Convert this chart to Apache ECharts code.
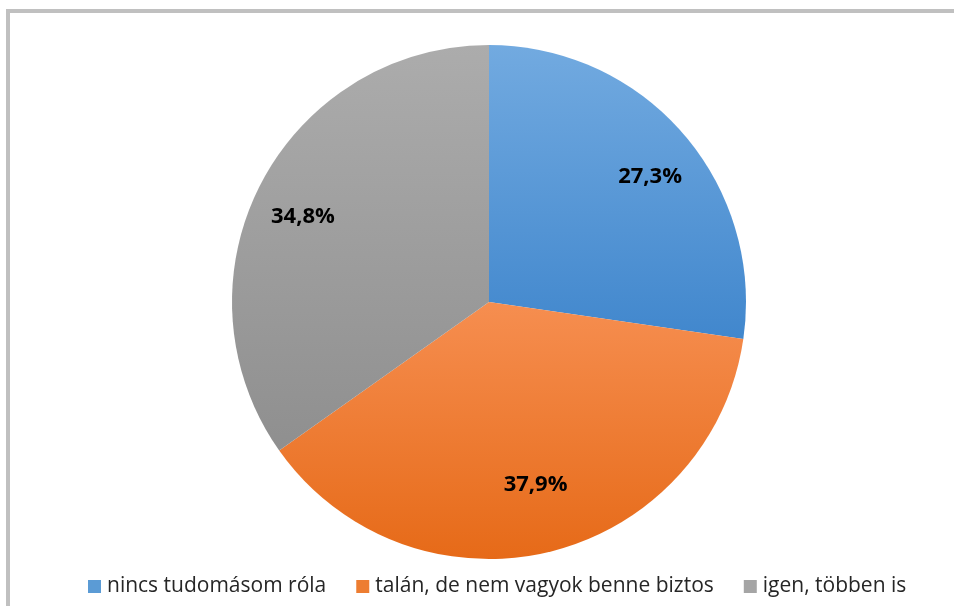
<!DOCTYPE html>
<html>
<head>
<meta charset="utf-8">
<script src="https://cdn.jsdelivr.net/npm/echarts@6/dist/echarts.min.js"></script>
<style>
html,body{margin:0;padding:0;background:#fff;}
#chart{width:954px;height:606px;}
</style>
</head>
<body>
<div id="chart"></div>
<script>
const categories = ['nincs tudomásom róla', 'talán, de nem vagyok benne biztos', 'igen, többen is'];
const values = [27.3, 37.9, 34.8];
const colorTop = ['#72aae0', '#f68e50', '#acacac'];
const colorBottom = ['#4187cd', '#e66a18', '#8f8f8f'];
const legendColors = ['#5b9bd5', '#ed7d31', '#a5a5a5'];

const chart = echarts.init(document.getElementById('chart'));
const fontFam = '"Open Sans", sans-serif';
// nudges of each value label (px): vertical (positive = down), horizontal (positive = right)
const labelShift = [9, -3, 9];
const labelShiftX = [6, 2, -4];

function grad(i) {
  return new echarts.graphic.LinearGradient(0, 0, 0, 1, [
    { offset: 0, color: colorTop[i] },
    { offset: 1, color: colorBottom[i] }
  ]);
}

const pieData = categories.map((c, i) => ({
  name: c,
  value: values[i],
  itemStyle: { color: grad(i) }
}));
function fmt(p) {
  const i = p.dataIndex;
  let t = '{v|' + p.value.toFixed(1).replace('.', ',') + '%}';
  const sx = labelShiftX[i];
  if (sx > 0) t = '{h' + i + '| }' + t;
  if (sx < 0) t = t + '{h' + i + '| }';
  const s = labelShift[i];
  if (s > 0) return '{a| }\n' + t;
  if (s < 0) return t + '\n{b| }';
  return t;
}
function labelData(showIdx) {
  return categories.map((c, i) => ({
    name: c, value: values[i],
    label: { show: showIdx.indexOf(i) >= 0 }
  }));
}
const rich = {
  v: { fontSize: 22, fontWeight: 'bold', fontFamily: fontFam, color: '#000', lineHeight: 24 },
  a: { fontSize: 2, lineHeight: 18 },
  b: { fontSize: 2, lineHeight: 6 }
};
labelShiftX.forEach((sx, i) => { rich['h' + i] = { fontSize: 2, width: Math.abs(sx) * 2 }; });
const labelCfg = {
  show: true,
  position: 'inside',
  color: '#000',
  fontSize: 22,
  fontWeight: 'bold',
  fontFamily: fontFam,
  formatter: fmt,
  rich: rich
};
function labelSeries(outer, showIdx) {
  return {
    type: 'pie',
    center: [489, 302],
    radius: [0, outer],
    startAngle: 90,
    clockwise: true,
    silent: true,
    itemStyle: { color: 'transparent', borderWidth: 0 },
    emphasis: { disabled: true },
    labelLine: { show: false },
    label: labelCfg,
    data: labelData(showIdx)
  };
}

chart.setOption({
  animation: false,
  graphic: [{
    type: 'rect',
    shape: { x: 8, y: 11, width: 1000, height: 700 },
    style: { fill: 'none', stroke: '#c0c0c0', lineWidth: 4 },
    silent: true,
    z: 100
  }],
  legend: {
    data: categories.map((c, i) => ({ name: c, itemStyle: { color: legendColors[i] } })),
    left: 88,
    top: 576,
    padding: 0,
    itemWidth: 13,
    itemHeight: 13,
    itemGap: 30,
    icon: 'rect',
    textStyle: { color: '#262626', fontSize: 21, fontFamily: fontFam, padding: [0, 0, 0, 1] }
  },
  series: [{
    type: 'pie',
    center: [489, 302],
    radius: [0, 257],
    startAngle: 90,
    clockwise: true,
    label: { show: false },
    labelLine: { show: false },
    itemStyle: { borderWidth: 0 },
    emphasis: { disabled: true },
    data: pieData
  },
  labelSeries(404, [0, 2]),
  labelSeries(376, [1])
  ]
});
</script>
</body>
</html>
